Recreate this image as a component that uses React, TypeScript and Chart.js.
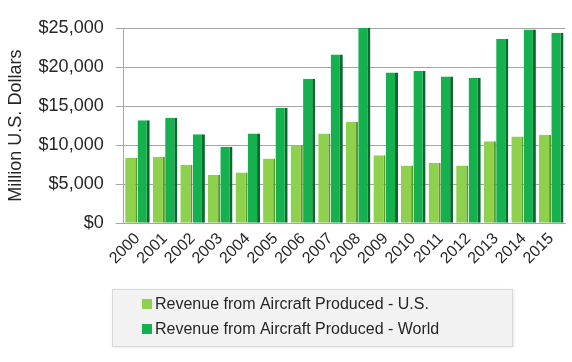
import React, { useEffect, useRef } from "react";
import { Chart, registerables } from "chart.js";

Chart.register(...registerables);

const years = ["2000","2001","2002","2003","2004","2005","2006","2007","2008","2009","2010","2011","2012","2013","2014","2015"];
const usRevenue = [8400, 8500, 7500, 6200, 6500, 8300, 10000, 11500, 13000, 8700, 7400, 7700, 7400, 10500, 11100, 11300];
const worldRevenue = [13200, 13500, 11400, 9800, 11500, 14800, 18500, 21600, 25000, 19300, 19500, 18800, 18600, 23600, 24800, 24400];
const seriesLabels = ["Revenue from Aircraft Produced - U.S.", "Revenue from Aircraft Produced - World"];
const yTicks = [0, 5000, 10000, 15000, 20000, 25000];

const FONT = "'Liberation Sans', Arial, sans-serif";

const legendBoxPlugin = {
  id: "legendBox",
  afterDraw(chart: any) {
    const ctx = chart.ctx as CanvasRenderingContext2D;
    ctx.save();
    ctx.shadowColor = "rgba(0,0,0,0.15)";
    ctx.shadowBlur = 3;
    ctx.shadowOffsetX = 1;
    ctx.shadowOffsetY = 1;
    ctx.fillStyle = "#f2f2f2";
    ctx.fillRect(112, 289, 400, 57);
    ctx.shadowColor = "transparent";
    ctx.strokeStyle = "#d9d9d9";
    ctx.lineWidth = 1;
    ctx.strokeRect(112.5, 289.5, 400, 57);
    ctx.font = "16px " + FONT;
    ctx.textBaseline = "middle";
    ctx.textAlign = "left";
    const rows = [304, 329];
    chart.data.datasets.forEach((ds: any, i: number) => {
      ctx.fillStyle = ds.backgroundColor;
      ctx.fillRect(142, rows[i] - 5, 10, 10);
      ctx.fillStyle = "#262626";
      ctx.fillText(ds.label, 155, rows[i] + 1);
    });
    ctx.restore();
  },
};

export default function App() {
  const ref = useRef<HTMLCanvasElement>(null);
  useEffect(() => {
    document.body.style.margin = "0";
    const chart = new Chart(ref.current!, {
      type: "bar",
      data: {
        labels: years,
        datasets: [
          {
            label: seriesLabels[0],
            data: usRevenue,
            backgroundColor: "#8ed14c",
            borderColor: "#5f9a2c",
            borderWidth: { left: 0, right: 2, top: 0, bottom: 0 },
            borderSkipped: false,
            categoryPercentage: 0.9,
            barPercentage: 0.98,
          },
          {
            label: seriesLabels[1],
            data: worldRevenue,
            backgroundColor: "#14b14e",
            borderColor: "#0a6a2e",
            borderWidth: { left: 0, right: 3, top: 0, bottom: 0 },
            borderSkipped: false,
            categoryPercentage: 0.9,
            barPercentage: 0.98,
          },
        ] as any,
      },
      options: {
        animation: false,
        responsive: false,
        maintainAspectRatio: false,
        layout: { padding: { left: 5, right: 7, top: 28, bottom: 94 } },
        plugins: {
          legend: { display: false },
          tooltip: { enabled: false },
        },
        scales: {
          x: {
            grid: { display: false, drawTicks: true, tickLength: 6, color: "#a6a6a6" },
            border: { color: "#a6a6a6" },
            ticks: {
              font: { family: FONT, size: 16 },
              color: "#262626",
              maxRotation: 45,
              minRotation: 45,
              padding: 0,
              autoSkip: false,
            },
          },
          y: {
            min: 0,
            max: 25000,
            afterBuildTicks: (axis: any) => {
              axis.ticks = yTicks.map((v) => ({ value: v }));
            },
            grid: { color: "#a6a6a6", tickLength: 8 },
            border: { color: "#a6a6a6" },
            ticks: {
              font: { family: FONT, size: 18 },
              color: "#262626",
              padding: 12,
              callback: (v: any) => "$" + Number(v).toLocaleString("en-US"),
            },
            title: {
              display: true,
              text: "Million U.S. Dollars",
              font: { family: FONT, size: 18 },
              color: "#262626",
              padding: { top: 0, bottom: 0 },
            },
          },
        },
      },
      plugins: [legendBoxPlugin],
    });
    return () => chart.destroy();
  }, []);
  return <canvas ref={ref} width={572} height={362} style={{ display: "block" }} />;
}
